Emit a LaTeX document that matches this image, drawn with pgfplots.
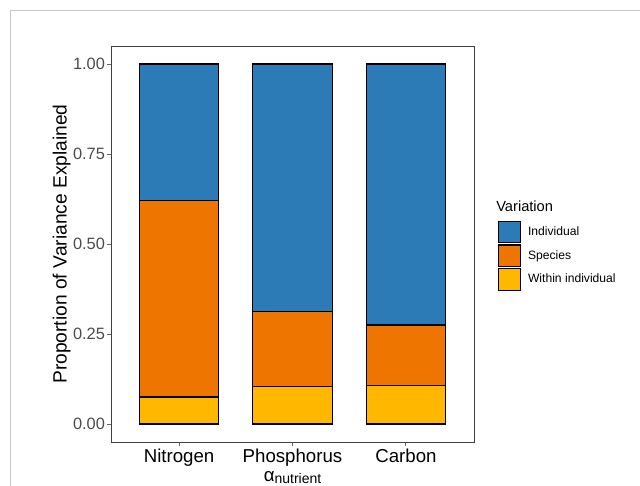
\documentclass[border=0pt]{standalone}
\usepackage{pgfplots}
\pgfplotsset{compat=1.18}
\usepackage{fontspec}
\setmainfont{Liberation Sans}
\setsansfont{Liberation Sans}
\definecolor{cInd}{RGB}{44,122,182}
\definecolor{cSpe}{RGB}{238,118,0}
\definecolor{cWit}{RGB}{255,183,0}
\begin{document}
\begin{tikzpicture}
\path[use as bounding box] (0pt,0pt) rectangle (480pt,364.5pt);
\draw[color=black!22, line width=0.75pt] (7.5pt,0pt) -- (7.5pt,356.25pt) -- (480pt,356.25pt);
\begin{axis}[
  at={(83.25pt,33pt)}, anchor=south west,
  width=272.25pt, height=297pt, scale only axis,
  xmin=0.4, xmax=3.6, ymin=-0.05, ymax=1.05,
  ybar stacked, bar width=0.7,
  xtick={1,2,3}, xticklabels={Nitrogen,Phosphorus,Carbon},
  ytick={0,0.25,0.5,0.75,1},
  /pgf/number format/assume math mode=true,
  xticklabel style={font=\fontsize{14}{16}\selectfont, color=black, yshift=1pt},
  yticklabel style={font=\fontsize{12.3}{14}\selectfont, color=black!70, xshift=2pt,
    /pgf/number format/fixed, /pgf/number format/fixed zerofill, /pgf/number format/precision=2},
  xtick pos=bottom, ytick pos=left,
  tick align=outside, major tick length=3pt,
  tick style={color=black!60, line width=0.7pt},
  axis line style={draw=black!75, line width=0.65pt},
  ylabel={Proportion of Variance Explained},
  ylabel style={font=\fontsize{14.4}{16}\selectfont, yshift=-5pt},
  xlabel={{\fontsize{14}{14}\selectfont α}\raisebox{-2pt}{\fontsize{10.5}{11}\selectfont nutrient}},
  xlabel style={yshift=3.5pt},
  legend reversed,
  legend cell align=left,
  legend image code/.code={\draw[#1, line width=0.9pt] (0pt,-8pt) rectangle (16pt,8pt); \path (20pt,0pt);},
  legend style={at={(rel axis cs:1.066,0.56)}, anchor=north west, draw=none, fill=none,
    inner sep=0pt, row sep=1pt, font=\fontsize{9.1}{11}\selectfont,
    nodes={inner sep=1.5pt}},
  clip=false,
]
\addplot[fill=cWit, draw=black, line width=0.8pt] coordinates {(1,0.075) (2,0.105) (3,0.108)};
\addplot[fill=cSpe, draw=black, line width=0.8pt] coordinates {(1,0.546) (2,0.208) (3,0.167)};
\addplot[fill=cInd, draw=black, line width=0.8pt] coordinates {(1,0.379) (2,0.687) (3,0.725)};
\legend{Within individual, Species, Individual}
\end{axis}
\node[anchor=west, font=\fontsize{11}{13}\selectfont, inner sep=0pt] at (372pt,210pt) {Variation};
\end{tikzpicture}
\end{document}
